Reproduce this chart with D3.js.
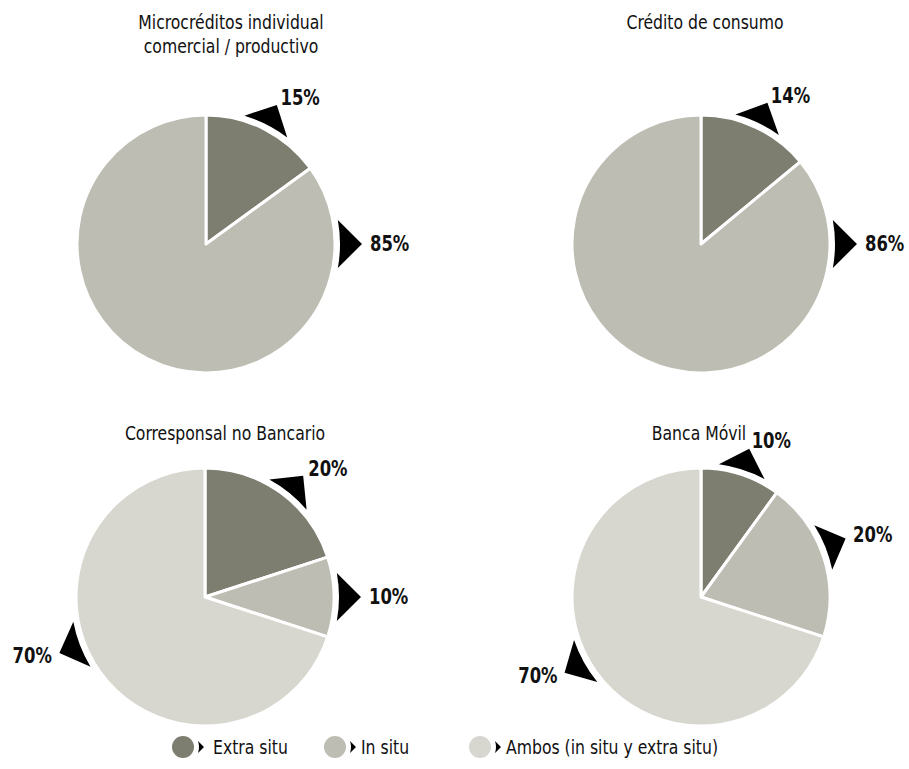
<!DOCTYPE html>
<html>
<head>
<meta charset="utf-8">
<style>
    body { margin: 0; background: #ffffff; }
    text { font-family: "DejaVu Sans Condensed", "DejaVu Sans", sans-serif; fill: #111; }
</style>
</head>
<body>
<div class="board"></div>
<script src="https://cdnjs.cloudflare.com/ajax/libs/d3/7.8.5/d3.min.js"></script>
<script>
    var width = 909, height = 769

    // data
    var categories = ["Extra situ", "In situ", "Ambos (in situ y extra situ)"]
    var chartTitles = [
        ["Microcréditos individual", "comercial / productivo"],
        ["Crédito de consumo"],
        ["Corresponsal no Bancario"],
        ["Banca Móvil"]
    ]
    var microcreditoValues = [15, 85, 0]
    var consumoValues = [14, 86, 0]
    var corresponsalValues = [20, 10, 70]
    var bancaMovilValues = [10, 20, 70]

    var allValues = [microcreditoValues, consumoValues, corresponsalValues, bancaMovilValues]

    // layout
    RADIUS = 129
    BASE_R = 134
    APEX_R = 156
    HALF_SPAN = 0.18
    SQUEEZE = 0.87  // the original font is narrower than anything installed

    var centers = [[206, 244], [701, 244], [205, 597], [701, 597]]
    var titlePos = [[231, 22], [705, 22], [225, 433], [699, 433]]
    // pointers that are not at the middle of their slice (degrees, clockwise from top)
    var pointerOverride = [{ 1: 90 }, { 1: 90 }, { 0: 39, 2: 249 }, { 1: 68, 2: 241 }]

    var colors = d3.scaleOrdinal()
        .domain(categories)
        .range(["#7d7e6f", "#bdbdb3", "#d7d7d0"])

    var svg = d3.select(".board")
        .append("svg")
        .attr("width", width)
        .attr("height", height)

    var pie = d3.pie().sort(null).value(d => d)
    var arc = d3.arc().innerRadius(0).outerRadius(RADIUS)

    function pt(r, a) {
        return [r * Math.sin(a), -r * Math.cos(a)]
    }

    function squeezed(x, y) {
        return "translate(" + x + "," + y + ") scale(" + SQUEEZE + ",1)"
    }

    function pointerPath(a) {
        let apex = pt(APEX_R, a)
        let b1 = pt(BASE_R, a - HALF_SPAN)
        let b2 = pt(BASE_R, a + HALF_SPAN)
        return "M" + apex + "L" + b1 + "A" + BASE_R + "," + BASE_R + " 0 0 1 " + b2 + "Z"
    }

    allValues.forEach((values, p) => {
        let g = svg.append("g")
            .attr("transform", "translate(" + centers[p][0] + "," + centers[p][1] + ")")

        let slices = pie(values)

        g.selectAll(".slice")
            .data(slices.filter(d => d.value > 0))
            .enter()
            .append("path")
            .classed("slice", true)
            .attr("d", arc)
            .attr("fill", d => colors(categories[d.index]))
            .attr("stroke", "white")
            .attr("stroke-width", 3)
            .attr("stroke-linejoin", "round")

        let labelled = slices.filter(d => d.value > 0).map(d => {
            let a = (d.startAngle + d.endAngle) / 2
            if (pointerOverride[p][d.index] != undefined) {
                a = pointerOverride[p][d.index] / 180 * Math.PI
            }
            return { value: d.value, angle: a }
        })

        g.selectAll(".pointer")
            .data(labelled)
            .enter()
            .append("path")
            .classed("pointer", true)
            .attr("d", d => pointerPath(d.angle))
            .attr("fill", "black")

        g.selectAll(".label")
            .data(labelled)
            .enter()
            .append("text")
            .classed("label", true)
            .attr("transform", d => {
                let q = pt(APEX_R + 8, d.angle)
                return squeezed(q[0], q[1])
            })
            .attr("text-anchor", d => Math.sin(d.angle) >= 0 ? "start" : "end")
            .attr("dominant-baseline", "central")
            .style("font-weight", "bold")
            .style("font-size", "21px")
            .text(d => d.value + "%")

        svg.append("text")
            .attr("transform", squeezed(titlePos[p][0], titlePos[p][1]))
            .attr("text-anchor", "middle")
            .style("font-size", "20px")
            .selectAll("tspan")
            .data(chartTitles[p])
            .enter()
            .append("tspan")
            .attr("x", 0)
            .attr("dy", (d, i) => i == 0 ? "0.35em" : "1.2em")
            .text(d => d)
    })

    // legend
    var legendX = [183, 335, 480]
    var legendTextX = [213, 361, 506]
    var legendY = 747

    var legend = svg.append("g").classed("legend", true)

    legend.selectAll("circle")
        .data(categories)
        .enter()
        .append("circle")
        .attr("cx", (d, i) => legendX[i])
        .attr("cy", legendY)
        .attr("r", 11)
        .attr("fill", d => colors(d))

    legend.selectAll(".tri")
        .data(categories)
        .enter()
        .append("path")
        .classed("tri", true)
        .attr("d", (d, i) => {
            let x = legendX[i] + 15
            return "M" + x + "," + (legendY - 6) + "L" + (x + 6) + "," + legendY + "L" + x + "," + (legendY + 6) +
                "Q" + (x + 2) + "," + legendY + " " + x + "," + (legendY - 6) + "Z"
        })
        .attr("fill", "black")

    legend.selectAll("text")
        .data(categories)
        .enter()
        .append("text")
        .attr("transform", (d, i) => squeezed(legendTextX[i], legendY))
        .attr("dominant-baseline", "central")
        .style("font-size", "20px")
        .text(d => d)
</script>
</body>
</html>
